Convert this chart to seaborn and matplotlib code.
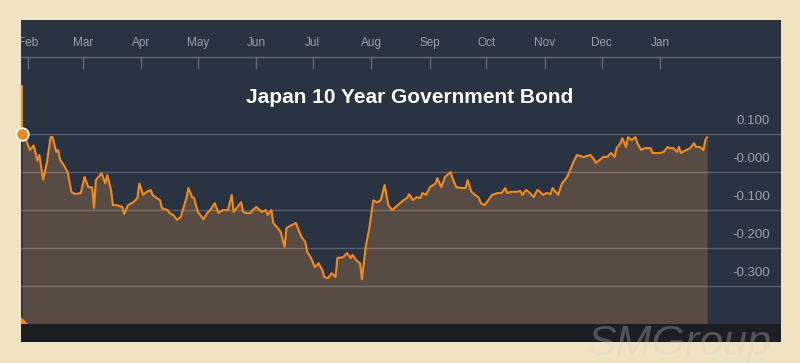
import matplotlib
matplotlib.use("Agg")
import matplotlib.pyplot as plt
import seaborn as sns
import pandas as pd

# ---- data ----
dates = [
    "2016-01-29", "2016-01-31", "2016-02-02", "2016-02-04", "2016-02-06", "2016-02-07",
    "2016-02-09", "2016-02-11", "2016-02-13", "2016-02-14", "2016-02-16", "2016-02-17",
    "2016-02-18", "2016-02-20", "2016-02-22", "2016-02-24", "2016-02-26", "2016-02-29",
    "2016-03-02", "2016-03-04", "2016-03-06", "2016-03-07", "2016-03-08", "2016-03-11",
    "2016-03-13", "2016-03-14", "2016-03-16", "2016-03-17", "2016-03-19", "2016-03-22",
    "2016-03-23", "2016-03-25", "2016-03-28", "2016-03-30", "2016-03-31", "2016-04-02",
    "2016-04-04", "2016-04-06", "2016-04-07", "2016-04-09", "2016-04-11", "2016-04-12",
    "2016-04-15", "2016-04-16", "2016-04-18", "2016-04-20", "2016-04-22", "2016-04-23",
    "2016-04-25", "2016-04-26", "2016-04-28", "2016-04-29", "2016-05-01", "2016-05-04",
    "2016-05-06", "2016-05-08", "2016-05-10", "2016-05-12", "2016-05-14", "2016-05-17",
    "2016-05-19", "2016-05-20", "2016-05-22", "2016-05-24", "2016-05-25", "2016-05-27",
    "2016-05-29", "2016-05-30", "2016-06-01", "2016-06-04", "2016-06-06", "2016-06-07",
    "2016-06-09", "2016-06-10", "2016-06-12", "2016-06-14", "2016-06-15", "2016-06-16",
    "2016-06-17", "2016-06-20", "2016-06-22", "2016-06-23", "2016-06-25", "2016-06-27",
    "2016-06-28", "2016-06-30", "2016-07-02", "2016-07-04", "2016-07-06", "2016-07-07",
    "2016-07-09", "2016-07-11", "2016-07-13", "2016-07-14", "2016-07-17", "2016-07-19",
    "2016-07-21", "2016-07-22", "2016-07-24", "2016-07-26", "2016-07-27", "2016-07-29",
    "2016-07-31", "2016-08-02", "2016-08-04", "2016-08-06", "2016-08-08", "2016-08-10",
    "2016-08-12", "2016-08-15", "2016-08-18", "2016-08-20", "2016-08-21", "2016-08-23",
    "2016-08-25", "2016-08-27", "2016-08-28", "2016-08-30", "2016-09-01", "2016-09-04",
    "2016-09-05", "2016-09-07", "2016-09-09", "2016-09-12", "2016-09-13", "2016-09-15",
    "2016-09-18", "2016-09-20", "2016-09-21", "2016-09-23", "2016-09-25", "2016-09-27",
    "2016-09-28", "2016-09-30", "2016-10-02", "2016-10-04", "2016-10-07", "2016-10-09",
    "2016-10-11", "2016-10-12", "2016-10-14", "2016-10-17", "2016-10-19", "2016-10-20",
    "2016-10-22", "2016-10-24", "2016-10-26", "2016-10-28", "2016-10-29", "2016-10-31",
    "2016-11-02", "2016-11-04", "2016-11-05", "2016-11-08", "2016-11-10", "2016-11-12",
    "2016-11-13", "2016-11-15", "2016-11-16", "2016-11-18", "2016-11-21", "2016-11-22",
    "2016-11-25", "2016-11-27", "2016-11-28", "2016-11-30", "2016-12-02", "2016-12-04",
    "2016-12-05", "2016-12-06", "2016-12-08", "2016-12-09", "2016-12-11", "2016-12-12",
    "2016-12-14", "2016-12-15", "2016-12-17", "2016-12-19", "2016-12-20", "2016-12-22",
    "2016-12-24", "2016-12-27", "2016-12-28", "2016-12-30", "2017-01-01", "2017-01-03",
    "2017-01-05", "2017-01-06", "2017-01-08", "2017-01-10", "2017-01-11", "2017-01-12",
    "2017-01-13", "2017-01-15", "2017-01-17", "2017-01-19", "2017-01-20", "2017-01-22",
    "2017-01-24", "2017-01-25", "2017-01-26",
]
yields = [
    0.100, 0.084, 0.058, 0.070, 0.030, 0.045,
    -0.020, 0.024, 0.092, 0.092, 0.053, 0.058,
    0.032, 0.018, 0.000, -0.052, -0.058, -0.055,
    -0.013, -0.040, -0.040, -0.095, -0.021, -0.003,
    -0.030, -0.008, -0.047, -0.087, -0.087, -0.092,
    -0.110, -0.087, -0.079, -0.068, -0.030, -0.060,
    -0.052, -0.047, -0.060, -0.068, -0.074, -0.095,
    -0.100, -0.108, -0.113, -0.126, -0.118, -0.100,
    -0.068, -0.042, -0.066, -0.068, -0.105, -0.124,
    -0.108, -0.097, -0.082, -0.108, -0.100, -0.100,
    -0.060, -0.105, -0.092, -0.079, -0.105, -0.108,
    -0.108, -0.100, -0.092, -0.105, -0.100, -0.113,
    -0.100, -0.134, -0.145, -0.158, -0.179, -0.197,
    -0.147, -0.139, -0.134, -0.147, -0.171, -0.184,
    -0.210, -0.226, -0.250, -0.240, -0.258, -0.276,
    -0.279, -0.266, -0.276, -0.226, -0.224, -0.213,
    -0.226, -0.218, -0.232, -0.240, -0.282, -0.197,
    -0.145, -0.074, -0.080, -0.074, -0.034, -0.087,
    -0.100, -0.087, -0.074, -0.068, -0.058, -0.074,
    -0.066, -0.068, -0.055, -0.060, -0.040, -0.030,
    -0.016, -0.040, -0.013, 0.000, -0.016, -0.040,
    -0.042, -0.042, -0.021, -0.052, -0.060, -0.068,
    -0.082, -0.087, -0.074, -0.060, -0.055, -0.055,
    -0.042, -0.055, -0.052, -0.052, -0.050, -0.060,
    -0.047, -0.055, -0.066, -0.047, -0.050, -0.060,
    -0.055, -0.058, -0.042, -0.060, -0.030, -0.018,
    -0.010, 0.013, 0.026, 0.045, 0.040, 0.040,
    0.045, 0.034, 0.024, 0.032, 0.040, 0.040,
    0.045, 0.050, 0.040, 0.063, 0.076, 0.089,
    0.066, 0.092, 0.084, 0.092, 0.076, 0.058,
    0.063, 0.063, 0.050, 0.050, 0.050, 0.053,
    0.066, 0.063, 0.063, 0.053, 0.066, 0.050,
    0.053, 0.058, 0.063, 0.076, 0.066, 0.066,
    0.058, 0.084, 0.092,
]
month_labels = ["Feb", "Mar", "Apr", "May", "Jun", "Jul", "Aug",
                "Sep", "Oct", "Nov", "Dec", "Jan"]
month_starts = ["2016-02-01", "2016-03-01", "2016-04-01", "2016-05-01",
                "2016-06-01", "2016-07-01", "2016-08-01", "2016-09-01",
                "2016-10-01", "2016-11-01", "2016-12-01", "2017-01-01"]
ytick_values = [0.1, 0.0, -0.1, -0.2, -0.3]
ytick_labels = ["0.100", "-0.000", "-0.100", "-0.200", "-0.300"]
title = "Japan 10 Year Government Bond"

df = pd.DataFrame({"date": pd.to_datetime(dates), "yield": yields})

# ---- styling ----
BEIGE = "#f0e3c1"
NAVY = "#2a3341"
BROWN = "#574b43"
STRIP = "#1d1e23"
ORANGE = "#f28a1e"
TXT = "#9aa0a8"

sns.set_theme(style="dark")
plt.rcParams["font.family"] = ["Liberation Sans", "DejaVu Sans"]

fig = plt.figure(figsize=(8.0, 3.63), dpi=100, facecolor=BEIGE)
ax = fig.add_axes([21 / 800, 1 - 342 / 363, 760 / 800, 322 / 363])
ax.set_facecolor(NAVY)

t0 = pd.Timestamp("2016-02-01")
ax.set_xlim(t0 + pd.Timedelta(days=-3.71), t0 + pd.Timedelta(days=399.1))
ax.set_ylim(-0.447, 0.40)
ytr = ax.get_yaxis_transform()

# area fill below the line
ax.fill_between(df["date"], df["yield"], -0.40, color=BROWN, lw=0, zorder=1)
# dark bottom strip
ax.axhspan(-0.447, -0.40, color=STRIP, lw=0, zorder=1.5)

# gridlines
for v in ytick_values:
    ax.axhline(v, color="white", alpha=0.22, lw=1.0, zorder=2)

# top axis line with month ticks
ax.axhline(0.302, color="white", alpha=0.25, lw=1.0, zorder=2)
ms = pd.to_datetime(month_starts)
ax.vlines(ms, 0.272, 0.302, color="white", alpha=0.25, lw=1.0, zorder=2)
for d, lab in zip(ms, month_labels):
    ax.text(d, 0.339, lab, color=TXT, fontsize=8.5, ha="center", va="center",
            zorder=3, clip_on=True)

# y labels on the right, just above their gridlines
for v, lab in zip(ytick_values, ytick_labels):
    ax.text(0.9855, v + 0.034, lab, transform=ytr,
            color=TXT, fontsize=9.5, ha="right", va="center", zorder=3)

# the series line
sns.lineplot(data=df, x="date", y="yield", ax=ax, color=ORANGE, lw=1.5,
             zorder=4, legend=False)

# first point marker and left accent
ax.plot([0.0015, 0.0015], [0.226, 0.10], transform=ytr,
        color=ORANGE, lw=1.5, zorder=5, clip_on=False)
ax.plot(df["date"].iloc[0], df["yield"].iloc[0], "o", ms=9, color=ORANGE,
        mec="white", mew=1.3, zorder=6, clip_on=False)
ax.fill([0.0, 0.0, 0.009], [-0.382, -0.40, -0.40], transform=ytr,
        color=ORANGE, lw=0, zorder=5, clip_on=False)

# title
ax.text(0.512, 0.195, title, color="white", fontsize=15, fontweight="bold",
        ha="center", va="center", zorder=6, transform=ytr)

ax.set_xlabel("")
ax.set_ylabel("")
ax.set_xticks([])
ax.set_yticks([])
for s in ax.spines.values():
    s.set_visible(False)

# watermark
fig.text(680 / 800, 1 - 344 / 363, "SMGroup", color="#d0d0d0", alpha=0.3,
         fontsize=31, fontstyle="italic", ha="center", va="center", zorder=10)

fig.savefig("out.png", dpi=100, facecolor=BEIGE)
